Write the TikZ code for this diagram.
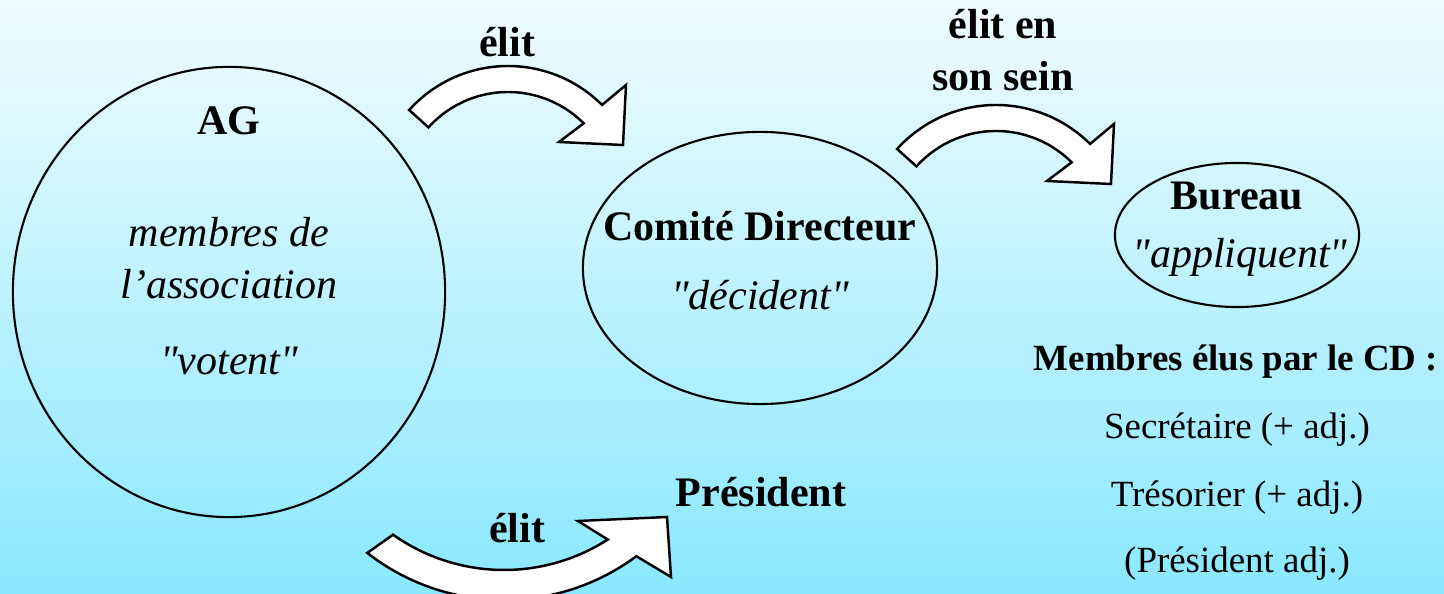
\documentclass[tikz,border=0pt]{standalone}
\usepackage{fontspec}
\setmainfont{Liberation Serif}[Ligatures=TeXOff]
\usetikzlibrary{shapes.geometric}
\definecolor{skytop}{RGB}{240,252,255}
\definecolor{skybottom}{RGB}{138,232,255}
\tikzset{
  bubble/.style={draw, ellipse, line width=0.6pt, inner sep=0pt},
  blockarrow/.style={draw, fill=white, line width=0.7pt, line join=miter},
  headtxt/.style={anchor=base, font=\bfseries\fontsize{11.95}{14}\selectfont},
  roletxt/.style={anchor=base, font=\itshape\fontsize{11.95}{14}\selectfont},
  listhead/.style={anchor=base, font=\bfseries\fontsize{10.5}{12}\selectfont},
  listtxt/.style={anchor=base, font=\fontsize{10.5}{12}\selectfont}
}
\begin{document}
\begin{tikzpicture}[x=0.01cm, y=0.01cm]
% sky
\clip (0,0) rectangle (1444,594);
\shade[top color=skytop, bottom color=skybottom] (0,0) rectangle (1444,594);

% bodies
\node (ag) [bubble, minimum width=4.32cm, minimum height=4.5cm] at (229,302) {};
\node (cd) [bubble, minimum width=3.54cm, minimum height=2.72cm] at (760,326) {};
\node (bureau) [bubble, minimum width=2.44cm, minimum height=1.44cm] at (1237,359) {};

\node (agname) [headtxt] at (229,459) {AG};
\node (agwho1) [roletxt] at (229,347) {membres de};
\node (agwho2) [roletxt] at (229,295) {l’association};
\node (agrole) [roletxt] at (229,219) {"votent"};
\node (cdname) [headtxt] at (760,353) {Comité Directeur};
\node (cdrole) [roletxt] at (760,284) {"décident"};
\node (buname) [headtxt] at (1237,384) {Bureau};
\node (burole) [roletxt] at (1240,326) {"appliquent"};
\node (pres) [headtxt] at (761,87) {Président};

% curved arrows
\coordinate (arcA) at (508,395);
\coordinate (arcB) at (996,356);
\coordinate (arcC) at (504,216);
\draw[blockarrow] ([shift={(138:133)}]arcA) arc[start angle=138, end angle=45, radius=133]
  -- (626,509) -- (623,449) -- (559,452)
  -- ([shift={(45:107)}]arcA) arc[start angle=45, end angle=138, radius=107] -- cycle;
\draw[blockarrow] ([shift={(138:133)}]arcB) arc[start angle=138, end angle=45, radius=133]
  -- (1114,470) -- (1111,410) -- (1047,413)
  -- ([shift={(45:107)}]arcB) arc[start angle=45, end angle=138, radius=107] -- cycle;
\draw[blockarrow] ([shift={(234.7:192)}]arcC) arc[start angle=234.7, end angle=302.7, radius=192]
  -- (578,73) -- (667,77) -- (671,17)
  -- ([shift={(306.6:222)}]arcC) arc[start angle=306.6, end angle=232, radius=222] -- cycle;

\node (elitA) [headtxt] at (507,537) {élit};
\node (elitB1) [headtxt] at (1003,555) {élit en};
\node (elitB2) [headtxt] at (1003,503) {son sein};
\node (elitC) [headtxt] at (517,51) {élit};

% bureau members
\node (cdlist) [listhead] at (1236,223) {Membres élus par le CD :};
\node (secr) [listtxt] at (1237,155) {Secrétaire (+ adj.)};
\node (tres) [listtxt] at (1237,87) {Trésorier (+ adj.)};
\node (vicep) [listtxt] at (1237,21) {(Président adj.)};
\end{tikzpicture}
\end{document}
